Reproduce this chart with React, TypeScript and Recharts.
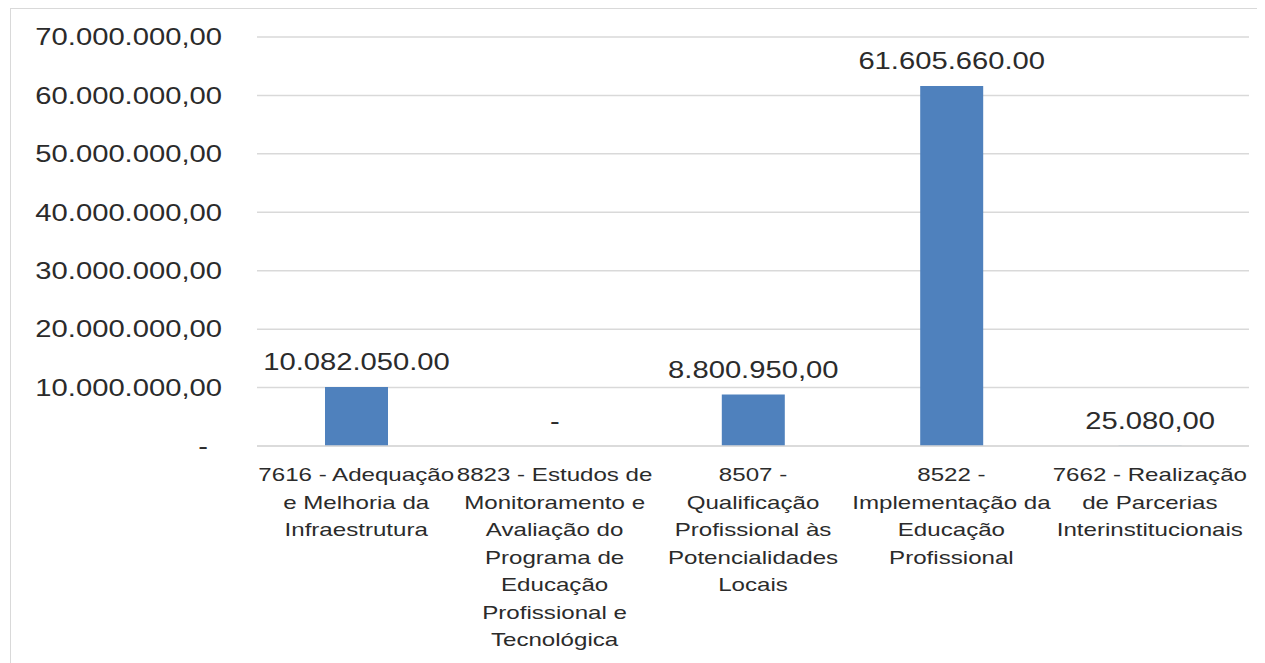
import { BarChart, Bar, XAxis, YAxis, CartesianGrid, LabelList } from "recharts";

const categories = [
  ["7616 - Adequação", "e Melhoria da", "Infraestrutura"],
  ["8823 - Estudos de", "Monitoramento e", "Avaliação do", "Programa de", "Educação", "Profissional e", "Tecnológica"],
  ["8507 -", "Qualificação", "Profissional às", "Potencialidades", "Locais"],
  ["8522 -", "Implementação da", "Educação", "Profissional"],
  ["7662 - Realização", "de Parcerias", "Interinstitucionais"],
];
const values = [10082050, 0, 8800950, 61605660, 25080];
const valueLabels = ["10.082.050.00", "-", "8.800.950,00", "61.605.660.00", "25.080,00"];
const yTicks = [0, 10000000, 20000000, 30000000, 40000000, 50000000, 60000000, 70000000];
const yTickLabels = ["-", "10.000.000,00", "20.000.000,00", "30.000.000,00", "40.000.000,00", "50.000.000,00", "60.000.000,00", "70.000.000,00"];

const data = categories.map((lines, i) => ({ name: String(i), lines, value: values[i], label: valueLabels[i] }));

const FONT = "'Liberation Sans', Arial, sans-serif";
const TEXT = "#2b2b2b";

function YTick(props: any) {
  const { x, y, payload } = props;
  const idx = yTicks.indexOf(payload.value);
  const zero = payload.value === 0;
  return (
    <g transform={`translate(${x - 27 - (zero ? 14 : 0)},${y}) scale(1.27,1)`}>
      <text textAnchor="end" dy="0.36em" fontSize={23} fill={TEXT} fontFamily={FONT}>
        {yTickLabels[idx]}
      </text>
    </g>
  );
}

function XTick(props: any) {
  const { x, y, payload } = props;
  const lines = categories[Number(payload.value)] || [];
  return (
    <g transform={`translate(${x},${y})`}>
      {lines.map((l, i) => (
        <g key={i} transform={`translate(0,${21 + i * 27.5}) scale(1.34,1)`}>
          <text textAnchor="middle" dy="0.36em" fontSize={18} fill={TEXT} fontFamily={FONT}>
            {l}
          </text>
        </g>
      ))}
    </g>
  );
}

function ValueLabel(props: any) {
  const { x, y, width, value } = props;
  return (
    <g transform={`translate(${Number(x) + Number(width) / 2},${Number(y) - 25}) scale(1.27,1)`}>
      <text textAnchor="middle" dy="0.36em" fontSize={23} fill={TEXT} fontFamily={FONT}>
        {value}
      </text>
    </g>
  );
}

export default function App() {
  return (
    <div
      style={{
        marginLeft: 2,
        width: 1252,
        height: 660,
        border: "1px solid #d9d9d9",
        borderBottom: "none",
        boxSizing: "border-box",
        background: "#fff",
      }}
    >
      <BarChart width={1250} height={655} data={data} margin={{ top: 28, right: 12, left: 0, bottom: 0 }}>
        <CartesianGrid vertical={false} stroke="#d9d9d9" strokeWidth={1.5} />
        <XAxis
          dataKey="name"
          height={218}
          interval={0}
          tickLine={false}
          axisLine={{ stroke: "#d9d9d9", strokeWidth: 1.5 }}
          tick={<XTick />}
        />
        <YAxis
          width={246}
          domain={[0, 70000000]}
          ticks={yTicks}
          axisLine={false}
          tickLine={false}
          tick={<YTick />}
        />
        <Bar
          dataKey="value"
          fill="#4f81bd"
          barSize={63}
          minPointSize={(v: number) => (v === 0 ? 0.01 : 0)}
          isAnimationActive={false}
        >
          <LabelList dataKey="label" content={<ValueLabel />} />
        </Bar>
      </BarChart>
    </div>
  );
}
